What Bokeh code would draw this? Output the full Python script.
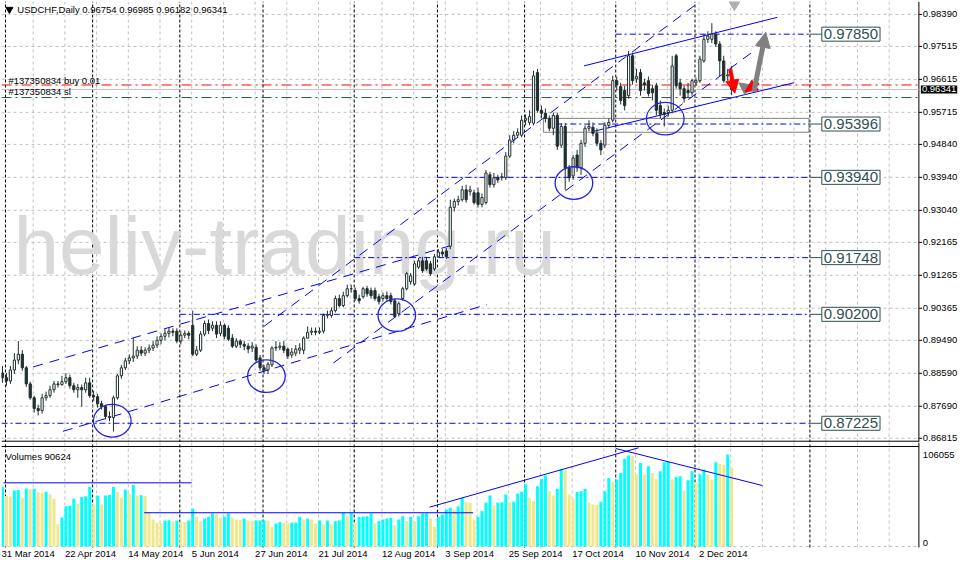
from bokeh.plotting import figure
from bokeh.layouts import column
from bokeh.models import Range1d, Label, Arrow, NormalHead, ColumnDataSource
from bokeh.core.properties import value
from bokeh.embed import file_html
from bokeh.resources import INLINE

# ---------------- data (daily USDCHF bars, 31 Mar 2014 .. 12 Dec 2014) ----------------
O = [0.8860, 0.8847, 0.8838, 0.8868, 0.8895, 0.8911, 0.8874, 0.8830, 0.8792, 0.8763,
     0.8757, 0.8792, 0.8798, 0.8814, 0.8830, 0.8828, 0.8836, 0.8847, 0.8825, 0.8814,
     0.8820, 0.8814, 0.8833, 0.8798, 0.8795, 0.8776, 0.8768, 0.8741, 0.8738, 0.8792,
     0.8852, 0.8874, 0.8893, 0.8901, 0.8906, 0.8922, 0.8914, 0.8922, 0.8928, 0.8936,
     0.8949, 0.8960, 0.8968, 0.8974, 0.8974, 0.8947, 0.8963, 0.8968, 0.8990, 0.8911,
     0.8922, 0.8966, 0.8995, 0.8982, 0.8990, 0.8968, 0.8990, 0.8982, 0.8955, 0.8933,
     0.8947, 0.8938, 0.8933, 0.8928, 0.8930, 0.8901, 0.8874, 0.8868, 0.8882, 0.8928,
     0.8930, 0.8933, 0.8925, 0.8909, 0.8914, 0.8922, 0.8922, 0.8955, 0.8971, 0.8974,
     0.8971, 0.8974, 0.9017, 0.9017, 0.9030, 0.9063, 0.9044, 0.9071, 0.9090, 0.9085,
     0.9063, 0.9068, 0.9090, 0.9085, 0.9085, 0.9068, 0.9063, 0.9071, 0.9071, 0.9057,
     0.9022, 0.9063, 0.9090, 0.9109, 0.9103, 0.9149, 0.9166, 0.9166, 0.9158, 0.9144,
     0.9177, 0.9190, 0.9193, 0.9206, 0.9312, 0.9328, 0.9333, 0.9360, 0.9355, 0.9352,
     0.9352, 0.9320, 0.9325, 0.9401, 0.9374, 0.9393, 0.9393, 0.9393, 0.9452, 0.9496,
     0.9509, 0.9509, 0.9550, 0.9544, 0.9542, 0.9680, 0.9577, 0.9569, 0.9555, 0.9528,
     0.9563, 0.9482, 0.9533, 0.9420, 0.9398, 0.9455, 0.9420, 0.9487, 0.9528, 0.9531,
     0.9514, 0.9487, 0.9482, 0.9536, 0.9550, 0.9658, 0.9642, 0.9631, 0.9617, 0.9726,
     0.9663, 0.9680, 0.9652, 0.9658, 0.9636, 0.9644, 0.9590, 0.9571, 0.9571, 0.9577,
     0.9726, 0.9652, 0.9636, 0.9631, 0.9625, 0.9652, 0.9658, 0.9712, 0.9771, 0.9771,
     0.9785, 0.9758, 0.9712, 0.9671, 0.96754]
H = [0.8879, 0.8860, 0.8879, 0.8914, 0.8947, 0.8922, 0.8879, 0.8836, 0.8798, 0.8773,
     0.8803, 0.8809, 0.8825, 0.8838, 0.8838, 0.8852, 0.8860, 0.8855, 0.8833, 0.8830,
     0.8828, 0.8847, 0.8847, 0.8811, 0.8803, 0.8784, 0.8773, 0.8755, 0.8798, 0.8857,
     0.8882, 0.8901, 0.8911, 0.8955, 0.8933, 0.8933, 0.8930, 0.8938, 0.8947, 0.8960,
     0.8968, 0.8979, 0.8984, 0.8982, 0.8982, 0.8974, 0.8976, 0.8974, 0.9030, 0.8933,
     0.8974, 0.9003, 0.9006, 0.9001, 0.9001, 0.9001, 0.8995, 0.8990, 0.8966, 0.8955,
     0.8952, 0.8947, 0.8941, 0.8944, 0.8938, 0.8909, 0.8882, 0.8890, 0.8933, 0.8947,
     0.8944, 0.8947, 0.8930, 0.8928, 0.8936, 0.8941, 0.8960, 0.8987, 0.8984, 0.8984,
     0.8984, 0.9022, 0.9030, 0.9039, 0.9071, 0.9074, 0.9082, 0.9101, 0.9101, 0.9093,
     0.9074, 0.9095, 0.9098, 0.9093, 0.9093, 0.9076, 0.9079, 0.9082, 0.9079, 0.9063,
     0.9055, 0.9095, 0.9136, 0.9133, 0.9166, 0.9174, 0.9177, 0.9177, 0.9166, 0.9185,
     0.9198, 0.9198, 0.9201, 0.9333, 0.9336, 0.9344, 0.9371, 0.9374, 0.9371, 0.9360,
     0.9366, 0.9350, 0.9414, 0.9409, 0.9406, 0.9401, 0.9406, 0.9463, 0.9509, 0.9520,
     0.9528, 0.9563, 0.9566, 0.9577, 0.9685, 0.9690, 0.9590, 0.9582, 0.9563, 0.9571,
     0.9571, 0.9542, 0.9542, 0.9428, 0.9455, 0.9469, 0.9496, 0.9536, 0.9550, 0.9544,
     0.9528, 0.9496, 0.9544, 0.9555, 0.9671, 0.9669, 0.9652, 0.9644, 0.9739, 0.9734,
     0.9690, 0.9690, 0.9663, 0.9669, 0.9647, 0.9652, 0.9604, 0.9582, 0.9590, 0.9726,
     0.9731, 0.9663, 0.9644, 0.9652, 0.9663, 0.9666, 0.9726, 0.9785, 0.9793, 0.9815,
     0.9793, 0.9766, 0.9726, 0.9690, 0.96985]
L = [0.8833, 0.8825, 0.8830, 0.8857, 0.8884, 0.8866, 0.8822, 0.8787, 0.8752, 0.8744,
     0.8749, 0.8784, 0.8792, 0.8806, 0.8820, 0.8825, 0.8830, 0.8817, 0.8806, 0.8792,
     0.8768, 0.8806, 0.8792, 0.8784, 0.8765, 0.8760, 0.8733, 0.8728, 0.8700, 0.8787,
     0.8844, 0.8868, 0.8884, 0.8890, 0.8898, 0.8906, 0.8906, 0.8914, 0.8920, 0.8928,
     0.8938, 0.8949, 0.8957, 0.8960, 0.8941, 0.8938, 0.8955, 0.8952, 0.8906, 0.8906,
     0.8917, 0.8960, 0.8966, 0.8974, 0.8955, 0.8960, 0.8952, 0.8947, 0.8928, 0.8928,
     0.8928, 0.8922, 0.8914, 0.8917, 0.8890, 0.8866, 0.8857, 0.8857, 0.8876, 0.8920,
     0.8922, 0.8914, 0.8898, 0.8901, 0.8906, 0.8911, 0.8911, 0.8955, 0.8963, 0.8963,
     0.8966, 0.8968, 0.9009, 0.9011, 0.9025, 0.9039, 0.9039, 0.9066, 0.9079, 0.9057,
     0.9049, 0.9063, 0.9068, 0.9063, 0.9057, 0.9047, 0.9055, 0.9055, 0.9047, 0.9011,
     0.9014, 0.9057, 0.9085, 0.9101, 0.9098, 0.9144, 0.9133, 0.9139, 0.9125, 0.9139,
     0.9179, 0.9177, 0.9171, 0.9198, 0.9301, 0.9317, 0.9328, 0.9325, 0.9344, 0.9320,
     0.9312, 0.9312, 0.9320, 0.9366, 0.9366, 0.9379, 0.9385, 0.9387, 0.9447, 0.9487,
     0.9501, 0.9504, 0.9536, 0.9536, 0.9536, 0.9571, 0.9555, 0.9544, 0.9520, 0.9509,
     0.9469, 0.9474, 0.9360, 0.9382, 0.9387, 0.9409, 0.9401, 0.9477, 0.9520, 0.9506,
     0.9479, 0.9455, 0.9474, 0.9528, 0.9544, 0.9631, 0.9593, 0.9577, 0.9609, 0.9647,
     0.9652, 0.9617, 0.9631, 0.9615, 0.9604, 0.9563, 0.9555, 0.9533, 0.9560, 0.9569,
     0.9636, 0.9617, 0.9598, 0.9612, 0.9617, 0.9644, 0.9652, 0.9707, 0.9761, 0.9761,
     0.9750, 0.9671, 0.9652, 0.9658, 0.96182]
C = [0.8847, 0.8838, 0.8868, 0.8895, 0.8911, 0.8874, 0.8830, 0.8792, 0.8763, 0.8757,
     0.8792, 0.8798, 0.8814, 0.8830, 0.8828, 0.8836, 0.8847, 0.8825, 0.8814, 0.8820,
     0.8814, 0.8833, 0.8798, 0.8795, 0.8776, 0.8768, 0.8741, 0.8738, 0.8792, 0.8852,
     0.8874, 0.8893, 0.8901, 0.8906, 0.8922, 0.8914, 0.8922, 0.8928, 0.8936, 0.8949,
     0.8960, 0.8968, 0.8974, 0.8971, 0.8947, 0.8963, 0.8968, 0.8963, 0.8911, 0.8922,
     0.8966, 0.8995, 0.8976, 0.8990, 0.8966, 0.8990, 0.8960, 0.8952, 0.8933, 0.8947,
     0.8938, 0.8933, 0.8925, 0.8933, 0.8895, 0.8874, 0.8868, 0.8884, 0.8928, 0.8930,
     0.8933, 0.8922, 0.8906, 0.8917, 0.8925, 0.8928, 0.8955, 0.8971, 0.8974, 0.8971,
     0.8974, 0.9017, 0.9020, 0.9030, 0.9063, 0.9044, 0.9071, 0.9090, 0.9090, 0.9063,
     0.9057, 0.9090, 0.9076, 0.9071, 0.9063, 0.9055, 0.9071, 0.9063, 0.9055, 0.9014,
     0.9049, 0.9090, 0.9131, 0.9125, 0.9158, 0.9166, 0.9139, 0.9144, 0.9131, 0.9177,
     0.9190, 0.9185, 0.9177, 0.9312, 0.9328, 0.9333, 0.9360, 0.9333, 0.9360, 0.9325,
     0.9320, 0.9339, 0.9406, 0.9374, 0.9393, 0.9387, 0.9396, 0.9452, 0.9496, 0.9509,
     0.9517, 0.9550, 0.9555, 0.9560, 0.9671, 0.9577, 0.9569, 0.9555, 0.9528, 0.9563,
     0.9479, 0.9533, 0.9420, 0.9393, 0.9447, 0.9420, 0.9487, 0.9528, 0.9533, 0.9514,
     0.9487, 0.9469, 0.9536, 0.9544, 0.9658, 0.9647, 0.9604, 0.9590, 0.9726, 0.9658,
     0.9669, 0.9631, 0.9647, 0.9623, 0.9625, 0.9577, 0.9566, 0.9566, 0.9577, 0.9698,
     0.9644, 0.9636, 0.9609, 0.9625, 0.9658, 0.9658, 0.9717, 0.9771, 0.9780, 0.9785,
     0.9758, 0.9712, 0.9658, 0.9674, 0.96341]
V = [68500, 58100, 57500, 64500, 65000, 56200, 66800, 66000, 66500, 62700,
     62000, 63000, 60000, 55000, 25500, 33500, 46500, 47000, 55000, 49600,
     57000, 58000, 68500, 48400, 58900, 48400, 58900, 59500, 68500, 63000,
     56200, 65700, 61000, 71000, 58900, 59200, 58500, 39600, 31100, 27300,
     27000, 30000, 30200, 29200, 30000, 28500, 28100, 30000, 43800, 34200,
     29200, 32300, 34200, 38100, 37500, 33000, 34200, 38100, 33000, 31100,
     30500, 32300, 30000, 29800, 30000, 30100, 30200, 29900, 22700, 26500,
     28100, 27300, 27000, 27500, 27600, 34200, 31100, 32000, 31100, 26500,
     30000, 25400, 30000, 25400, 29200, 30000, 38800, 35000, 38800, 27300,
     34200, 34500, 35000, 38100, 26500, 29200, 31100, 32300, 33000, 24600,
     31100, 35000, 29200, 34200, 29200, 35000, 38100, 38300, 32300, 22700,
     34200, 36900, 42600, 44600, 42400, 46000, 56200, 51100, 50300, 31100,
     34200, 40800, 50300, 58900, 47300, 50300, 51100, 60000, 51100, 51500,
     61200, 63200, 71700, 56200, 52300, 69400, 77900, 81800, 63800, 58900,
     66600, 89000, 88500, 60000, 55000, 62700, 63800, 66600, 50300, 48400,
     48200, 51500, 63800, 79100, 74100, 77100, 84800, 101300, 105000, 104000,
     83000, 96400, 83000, 92600, 84800, 77900, 86700, 97200, 97500, 77100,
     80200, 80900, 64600, 76400, 86700, 74100, 83000, 88800, 83000, 77100,
     97200, 95000, 94000, 106055, 90624]

SYMBOL = "USDCHF,Daily"
DATE_LABELS = ["31 Mar 2014", "22 Apr 2014", "14 May 2014", "5 Jun 2014", "27 Jun 2014",
               "21 Jul 2014", "12 Aug 2014", "3 Sep 2014", "25 Sep 2014", "17 Oct 2014",
               "10 Nov 2014", "2 Dec 2014"]
DATE_LABEL_BARS = [0, 16, 32, 48, 64, 80, 96, 112, 128, 144, 160, 176]
MONTH_START_BARS = [1, 23, 45, 66, 89, 110, 132, 155, 175, 204]
PRICE_TICKS = [0.98390, 0.97515, 0.96615, 0.95715, 0.94840, 0.93940, 0.93040,
               0.92165, 0.91265, 0.90365, 0.89490, 0.88590, 0.87690, 0.86815]

LEVELS = [0.97850, 0.95396, 0.93940, 0.91748, 0.90200, 0.87225]
LEVEL_FROM_BAR = [155, 140, 110, 89, 45, 0]
LEVEL_TO_BAR = 204
ZONE_TOP, ZONE_BOT, ZONE_FROM, ZONE_TO = 0.95551, 0.95172, 136.5, 203.5

ORDER_ID = "#137350834"
BUY_PRICE, SL_PRICE, BID = 0.96462, 0.96119, 0.96341

# channel trend lines (bar, price) pairs
TREND_DASHED = [((7.75, 0.88763), (113.5, 0.92089)),
                ((15.25, 0.87005), (122.25, 0.90467)),
                ((66.0, 0.89872), (176.0, 0.98742)),
                ((83.5, 0.88871), (190.25, 0.97444))]
TREND_SOLID = [((146.75, 0.96984), (195.5, 0.98309)),
               ((149.25, 0.95199), (199.75, 0.96524))]
CIRCLE_BARS = [27.7, 66.6, 99.5, 144.2, 167.25]
CIRCLE_PRICES = [0.87294, 0.88511, 0.90177, 0.93785, 0.95543]

VOL_LINES = [((0.25, 73400), (47.75, 73400)),
             ((35.75, 38900), (118.75, 38900)),
             ((107.75, 45300), (160.5, 113800)),
             ((154.75, 113000), (191.75, 70300))]

# ---------------- styling / layout constants ----------------
FONT = "Liberation Sans"
FS = "9.5px"
CANDLE = "#1f2e2e"
BLUE = "#0000ff"
GRID = "#c0c0c0"
X_L, X_AX, X_R = -0.25, 231.25, 241.75      # left edge, price-scale line, canvas right edge
Y_TOP, Y_BOT, Y_BORDER = 0.98742, 0.86700, 0.86735
# volume window: frame covers the date-label strip too
V_TOP, V_BOT, V_BORDER, V_FLOOR = 119900, -15000, 115300, -1150
V_DATE_Y, V_ZERO_LABEL_Y = -8650, 4600

n = len(C)
bars = list(range(n))
src = ColumnDataSource(dict(
    x=bars, h=H, l=L,
    top=[max(o, c) for o, c in zip(O, C)],
    bottom=[min(o, c) for o, c in zip(O, C)],
    fill=["white" if c >= o else CANDLE for o, c in zip(O, C)],
))

shared_x = Range1d(X_L, X_R)


def base_fig(height, y_range, top, y_lo, y_hi):
    f = figure(width=960, height=height, x_range=shared_x, y_range=y_range,
               output_backend="svg", toolbar_location=None,
               x_axis_location=None, y_axis_location=None,
               min_border_left=1, min_border_right=0,
               min_border_top=top, min_border_bottom=0)
    f.background_fill_color = "white"
    f.border_fill_color = "white"
    f.outline_line_color = None
    f.xgrid.visible = False
    f.ygrid.visible = False
    gx = [8 * k - 0.25 for k in range(1, 29)]
    f.segment(x0=gx, y0=[y_lo] * len(gx), x1=gx, y1=[y_hi] * len(gx), line_color=GRID,
              line_dash="3 3", line_width=1, level="underlay")
    sx = [m - 0.25 for m in MONTH_START_BARS]
    f.segment(x0=sx, y0=[y_lo] * len(sx), x1=sx, y1=[y_hi] * len(sx), line_color="black",
              line_dash="3 2", line_width=1, level="underlay")
    f.segment(x0=[X_AX], y0=[y_lo], x1=[X_AX], y1=[y_hi], line_color="black", line_width=1)
    return f


# ---------------- price panel ----------------
p = base_fig(442, Range1d(Y_BOT, Y_TOP), 1, Y_BOT, Y_TOP)

p.segment(x0=[X_L] * len(PRICE_TICKS), y0=PRICE_TICKS, x1=[X_AX] * len(PRICE_TICKS),
          y1=PRICE_TICKS, line_color=GRID, line_dash="3 3", line_width=1, level="underlay")
p.segment(x0=[X_L], y0=[Y_BORDER], x1=[X_AX], y1=[Y_BORDER], line_color="black", line_width=1)

# watermark
p.add_layout(Label(x=2.75, y=0.92089, text="heliy-trading.ru", text_font=FONT,
                   text_font_size="82px", text_color="#d9d9d9",
                   text_baseline="alphabetic", level="underlay"))

# price scale (right)
p.segment(x0=[X_AX] * len(PRICE_TICKS), y0=PRICE_TICKS, x1=[X_AX + 0.8] * len(PRICE_TICKS),
          y1=PRICE_TICKS, line_color="black", line_width=1)
p.text(x=[X_AX + 1.0] * len(PRICE_TICKS), y=PRICE_TICKS,
       text=[f"{t:.5f}" for t in PRICE_TICKS], text_font=value(FONT),
       text_font_size=value(FS), text_color="black", text_baseline="middle",
       text_align="left")

# order lines
p.segment(x0=[X_L], y0=[BID], x1=[X_AX], y1=[BID], line_color="#c0c0c0", line_width=1)
p.segment(x0=[X_L], y0=[BUY_PRICE], x1=[X_AX], y1=[BUY_PRICE], line_color="red",
          line_dash="10 4 2 4", line_width=1)
p.segment(x0=[X_L], y0=[SL_PRICE], x1=[X_AX], y1=[SL_PRICE], line_color="#2f4f4f",
          line_dash="10 4 2 4", line_width=1)

# levels
p.segment(x0=[b - 0.25 for b in LEVEL_FROM_BAR], y0=LEVELS,
          x1=[LEVEL_TO_BAR - 0.25] * len(LEVELS), y1=LEVELS,
          line_color=BLUE, line_dash="6 3 2 3", line_width=1)
p.segment(x0=[LEVEL_TO_BAR - 0.25] * len(LEVELS), y0=LEVELS,
          x1=[LEVEL_TO_BAR + 2.75] * len(LEVELS), y1=LEVELS,
          line_color="#2f4f4f", line_width=1)
p.quad(left=[ZONE_FROM], right=[ZONE_TO], top=[ZONE_TOP], bottom=[ZONE_BOT],
       fill_color=None, line_color="#808080", line_width=1)
for lv in LEVELS:
    p.add_layout(Label(x=LEVEL_TO_BAR + 2.75, y=lv, text=f"{lv:.5f}", text_font=FONT,
                       text_font_size="15px", text_color="#2f4f4f", text_baseline="middle",
                       text_align="left", background_fill_color="white",
                       border_line_color="#2f4f4f", border_line_width=1, padding=2))

# trend lines
p.segment(x0=[a[0] for a, b in TREND_DASHED], y0=[a[1] for a, b in TREND_DASHED],
          x1=[b[0] for a, b in TREND_DASHED], y1=[b[1] for a, b in TREND_DASHED],
          line_color=BLUE, line_dash="10 7", line_width=1)
p.segment(x0=[a[0] for a, b in TREND_SOLID], y0=[a[1] for a, b in TREND_SOLID],
          x1=[b[0] for a, b in TREND_SOLID], y1=[b[1] for a, b in TREND_SOLID],
          line_color=BLUE, line_width=1)

# candles
p.segment(x0="x", y0="h", x1="x", y1="l", source=src, line_color=CANDLE, line_width=1)
p.vbar(x="x", width=0.55, top="top", bottom="bottom", fill_color="fill",
       line_color=CANDLE, line_width=1, source=src)

# circles
p.ellipse(x=CIRCLE_BARS, y=CIRCLE_PRICES, width=9.5, height=0.0089,
          fill_color=None, line_color="#2424e0", line_width=1.3)

# arrows (projection)
p.add_layout(Arrow(end=NormalHead(size=13, fill_color="red", line_color="red"),
                   x_start=183.6, y_start=0.9690, x_end=184.8, y_end=0.9624,
                   line_color="red", line_width=4))
p.add_layout(Arrow(end=NormalHead(size=12, fill_color="#808080", line_color="#808080"),
                   x_start=188.2, y_start=0.9633, x_end=185.8, y_end=0.9652,
                   line_color="#808080", line_width=4))
p.add_layout(Arrow(end=NormalHead(size=12, fill_color="red", line_color="red"),
                   x_start=190.8, y_start=0.9652, x_end=187.4, y_end=0.9628,
                   line_color="red", line_width=4))
p.add_layout(Arrow(end=NormalHead(size=15, fill_color="#808080", line_color="#808080"),
                   x_start=189.6, y_start=0.9628, x_end=192.6, y_end=0.9790,
                   line_color="#808080", line_width=5))
p.scatter(x=[184.7], y=[Y_TOP], marker="inverted_triangle", size=16,
          fill_color="#b0b0b0", line_color="#b0b0b0")

# texts
p.scatter(x=[1.75], y=[0.98526], marker="inverted_triangle", size=7,
          fill_color="black", line_color="black")
p.add_layout(Label(x=3.75, y=0.98526,
                   text=f"{SYMBOL}  {O[-1]:.5f} {H[-1]:.5f} {L[-1]:.5f} {C[-1]:.5f}",
                   text_font=FONT, text_font_size=FS, text_color="black",
                   text_baseline="middle", text_align="left"))
p.add_layout(Label(x=1.5, y=0.96592, text=f"{ORDER_ID} buy 0.01", text_font=FONT,
                   text_font_size=FS, text_color="black", text_baseline="middle"))
p.add_layout(Label(x=1.5, y=0.96289, text=f"{ORDER_ID} sl", text_font=FONT,
                   text_font_size=FS, text_color="black", text_baseline="middle"))
p.add_layout(Label(x=X_AX, y=BID, x_offset=2, text=f"{BID:.5f}", text_font=FONT,
                   text_font_size=FS, text_color="white", text_baseline="middle",
                   text_align="left", background_fill_color="black", padding=1))

# ---------------- volume panel ----------------
VMAX = max(V)
v = base_fig(117, Range1d(V_BOT, V_TOP), 0, V_FLOOR, V_TOP)

v.segment(x0=[X_L], y0=[0], x1=[X_AX], y1=[0], line_color=GRID, line_dash="3 3",
          line_width=1, level="underlay")
v.segment(x0=[X_L], y0=[V_BORDER], x1=[X_AX], y1=[V_BORDER], line_color="black",
          line_width=1)

vcolors = ["#00ffff" if (i == 0 or V[i] > V[i - 1]) else "#f0e68c" for i in range(n)]
v.vbar(x=bars, width=0.75, top=V, bottom=0, fill_color=vcolors, line_color=None)
v.segment(x0=[a[0] for a, b in VOL_LINES], y0=[a[1] for a, b in VOL_LINES],
          x1=[b[0] for a, b in VOL_LINES], y1=[b[1] for a, b in VOL_LINES],
          line_color=BLUE, line_width=1)
v.add_layout(Label(x=0.75, y=103770, text=f"Volumes {V[-1]}", text_font=FONT,
                   text_font_size=FS, text_color="black", text_baseline="middle"))

# volume scale (right)
v.text(x=[X_AX + 1.0, X_AX + 1.0], y=[VMAX, V_ZERO_LABEL_Y],
       text=[f"{VMAX}", "0"], text_font=value(FONT), text_font_size=value(FS),
       text_color="black", text_baseline="middle", text_align="left")

# time scale (dates start at their bar, as in the terminal)
v.text(x=[b - 0.25 for b in DATE_LABEL_BARS], y=[V_DATE_Y] * len(DATE_LABEL_BARS),
       text=DATE_LABELS, text_font=value(FONT), text_font_size=value(FS),
       text_color="black", text_baseline="middle", text_align="left")

layout = column(p, v, spacing=0)
open("out.html", "w").write(file_html(layout, INLINE, "USDCHF Daily"))
